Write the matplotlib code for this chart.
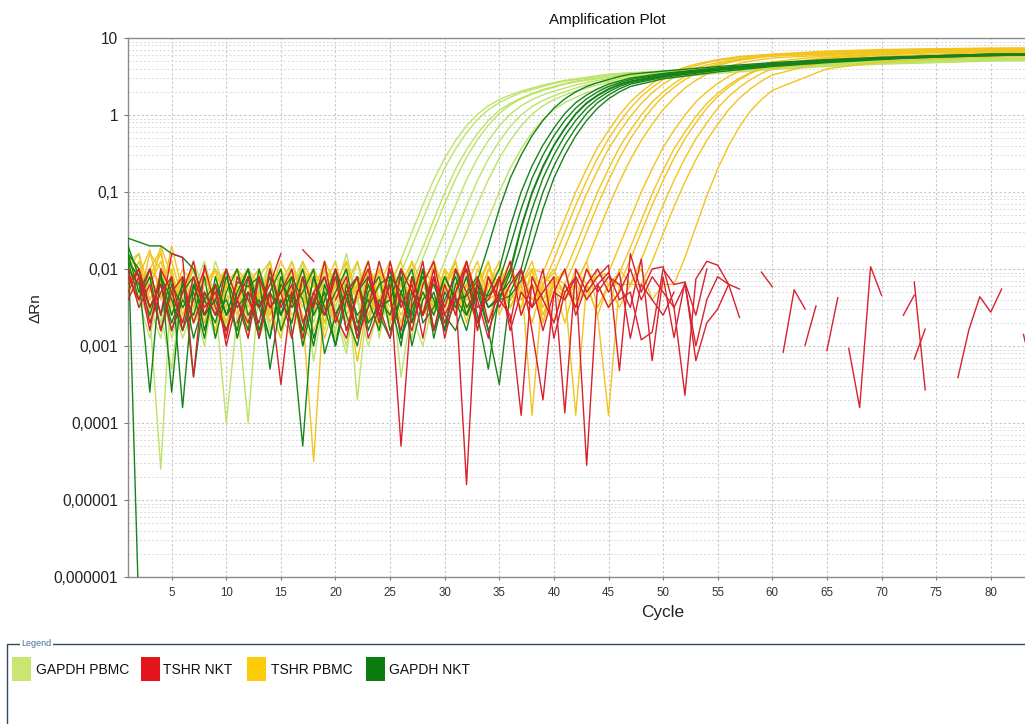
import numpy as np
import matplotlib
matplotlib.use("Agg")
import matplotlib.pyplot as plt
from matplotlib import font_manager
from matplotlib.ticker import FixedLocator, LogLocator, NullFormatter
from matplotlib.patches import Rectangle

plt.rcParams['font.family'] = ['Liberation Sans', 'DejaVu Sans']

nan = np.nan

# all dRn values below are log10(dRn), one per cycle from cycle 1
# (base = noisy baseline, rise = amplification part, tail = plateau at the *_TAIL_CYCLES)

GREEN_TAIL_CYCLES = [50, 55, 60, 65, 70, 75, 80, 85, 90]
YELLOW_TAIL_CYCLES = [65, 70, 75, 80, 85, 90]

# ---- GAPDH PBMC (light green)
gapdh_pbmc_base = [
    [-1.8, -2.0, -2.6, -4.6, -2.1, -2.5, -1.9, -2.3, -2.8, -2.2, -2.0, -2.7, -2.4, -1.9, -2.6,
     -2.9, -2.2, -2.0, -2.5, -2.3, -1.8, -2.4, -2.7, -2.2],
    [-1.7, -2.1, -2.5, -2.9, -2.0, -2.7, -2.3, -1.9, -2.4, -4.0, -2.6, -2.2, -2.0, -2.8, -2.4,
     -1.9, -2.3, -2.7, -2.1, -2.5, -3.0, -2.2, -1.9, -2.4, -2.3],
    [-1.9, -1.8, -2.6, -2.2, -2.9, -2.4, -2.0, -2.7, -2.3, -2.1, -2.5, -4.0, -2.2, -2.8, -2.4,
     -2.0, -2.9, -2.3, -1.9, -2.6, -3.1, -2.2, -2.5, -1.9, -2.4, -2.2],
    [-1.8, -2.3, -2.0, -2.8, -2.4, -2.1, -2.7, -2.5, -1.9, -2.3, -2.9, -2.4, -2.1, -2.6, -2.0,
     -2.3, -2.7, -3.0, -2.2, -2.5, -2.0, -3.7, -2.3, -2.7, -2.1, -2.3],
    [-2.0, -2.4, -2.9, -2.1, -2.6, -2.2, -2.0, -2.8, -2.4, -2.7, -2.1, -2.5, -2.3, -1.9, -2.8,
     -2.4, -2.1, -3.2, -2.3, -2.0, -2.7, -2.4, -2.0, -2.9, -2.2, -2.5, -2.3],
    [-1.9, -2.4, -2.1, -2.6, -3.3, -2.2, -2.7, -2.4, -2.9, -2.1, -2.3, -2.8, -2.0, -2.5, -2.9,
     -2.2, -1.9, -2.6, -2.3, -2.8, -2.1, -2.4, -3.0, -2.5, -2.0, -3.4, -2.5, -2.2],
    [-1.8, -2.3, -2.7, -2.1, -2.4, -2.9, -2.5, -2.0, -2.3, -2.8, -2.2, -2.0, -2.9, -2.5, -2.1,
     -2.7, -2.3, -2.6, -2.0, -2.9, -2.4, -1.9, -2.6, -2.2, -2.8, -2.3, -2.9, -2.1, -2.4],
    [-2.0, -2.5, -2.2, -2.7, -2.1, -2.8, -2.4, -3.0, -2.2, -2.6, -2.3, -2.9, -2.1, -2.4, -2.7,
     -2.0, -2.9, -2.3, -2.8, -2.1, -2.6, -2.4, -2.0, -2.8, -2.3, -2.1, -2.6, -3.0, -2.4, -2.2,
     -2.5],
]
gapdh_pbmc_rise = [
    [-2.2, -1.88, -1.52, -1.17, -0.84, -0.56, -0.33, -0.14, 0.01, 0.12, 0.2, 0.26, 0.31, 0.35,
     0.39, 0.42, 0.45, 0.47, 0.49, 0.51, 0.53, 0.54, 0.55],
    [-2.05, -1.7, -1.35, -1.0, -0.69, -0.44, -0.23, -0.06, 0.07, 0.16, 0.23, 0.29, 0.33, 0.37,
     0.41, 0.44, 0.46, 0.48, 0.5, 0.52, 0.535, 0.545],
    [-2.05, -1.72, -1.36, -1.01, -0.7, -0.45, -0.24, -0.07, 0.06, 0.15, 0.22, 0.28, 0.33, 0.37,
     0.41, 0.44, 0.46, 0.48, 0.5, 0.52, 0.535],
    [-2.2, -1.86, -1.5, -1.15, -0.83, -0.55, -0.32, -0.13, 0.02, 0.13, 0.21, 0.27, 0.32, 0.36,
     0.4, 0.43, 0.45, 0.47, 0.49, 0.51, 0.53],
    [-2.2, -1.88, -1.52, -1.17, -0.84, -0.56, -0.33, -0.14, 0.01, 0.12, 0.2, 0.26, 0.31, 0.35,
     0.39, 0.42, 0.45, 0.47, 0.49, 0.51],
    [-2.25, -1.9, -1.53, -1.18, -0.85, -0.57, -0.34, -0.15, 0.0, 0.11, 0.19, 0.25, 0.3, 0.35,
     0.39, 0.42, 0.44, 0.47, 0.49],
    [-2.2, -1.87, -1.51, -1.16, -0.84, -0.56, -0.33, -0.14, 0.01, 0.12, 0.2, 0.26, 0.31, 0.35,
     0.39, 0.42, 0.45, 0.47],
    [-2.05, -1.7, -1.35, -1.0, -0.69, -0.44, -0.23, -0.06, 0.07, 0.16, 0.23, 0.29, 0.33, 0.37,
     0.41, 0.44],
]
gapdh_pbmc_tail = [
    [0.57, 0.61, 0.65, 0.68, 0.70, 0.72, 0.73, 0.74, 0.75],
    [0.56, 0.60, 0.64, 0.67, 0.70, 0.71, 0.73, 0.74, 0.74],
    [0.56, 0.60, 0.64, 0.67, 0.69, 0.71, 0.72, 0.73, 0.74],
    [0.54, 0.59, 0.63, 0.66, 0.69, 0.71, 0.72, 0.73, 0.73],
    [0.53, 0.58, 0.62, 0.66, 0.68, 0.70, 0.72, 0.73, 0.73],
    [0.51, 0.57, 0.61, 0.65, 0.68, 0.70, 0.71, 0.72, 0.73],
    [0.50, 0.56, 0.61, 0.64, 0.67, 0.69, 0.71, 0.72, 0.72],
    [0.48, 0.54, 0.59, 0.63, 0.66, 0.68, 0.70, 0.71, 0.72],
]

# ---- GAPDH NKT (dark green)
gapdh_nkt_base = [
    [-1.6, -6.5, nan, -2.1, -2.6, -2.2, -2.9, -2.4, -2.7, -2.1, -2.5, -2.3, -2.9, -2.0, -2.6,
     -2.3, -2.8, -2.1, -2.5, -3.0, -2.4, -2.1, -2.7, -2.5, -2.0, -2.9, -2.3, -2.6, -2.1, -2.8,
     -2.4],
    [-1.6, -1.65, -1.7, -1.7, -1.8, -1.85, -2.0, -2.4, -2.2, -2.6, -2.17, -2.23, -2.1, -3.3, -2.4,
     -2.7, -2.1, -2.9, -2.4, -2.0, -2.6, -3.0, -2.3, -2.1, -2.8, -2.4, -2.6, -2.0, -2.9, -2.3,
     -2.5, -2.1, -2.7],
    [-1.7, -2.1, -3.6, -2.0, -3.6, -2.1, -3.4, -2.3, -2.6, -2.4, -2.8, -2.1, -2.5, -2.3, -2.0,
     -2.8, -4.3, -2.4, -2.1, -2.6, -2.3, -2.9, -2.2, -2.5, -2.4, -3.0, -2.1, -2.6, -2.3, -2.8,
     -2.0, -2.5, -2.3],
    [-1.8, -2.3, -2.0, -2.6, -2.1, -3.8, -2.2, -2.6, -2.4, -2.8, -2.3, -2.0, -2.5, -2.9, -2.2,
     -2.4, -2.8, -2.1, -2.6, -2.3, -2.0, -2.7, -2.5, -2.2, -2.1, -2.9, -2.5, -2.1, -2.4, -2.8,
     -2.2, -2.0, -2.6, -3.3],
    [-1.9, -2.4, -2.1, -2.8, -2.2, -2.5, -2.3, -2.9, -2.1, -2.6, -2.4, -2.8, -2.0, -2.5, -2.3,
     -2.1, -3.0, -2.4, -2.6, -2.0, -2.8, -2.3, -2.1, -2.6, -2.9, -2.3, -2.0, -2.7, -2.5, -2.1,
     -2.4, -2.8, -2.2, -2.5],
    [-1.8, -2.0, -2.5, -2.2, -2.8, -2.4, -2.6, -2.1, -2.9, -2.3, -2.0, -2.6, -2.4, -2.9, -2.1,
     -2.5, -2.3, -2.0, -3.1, -2.6, -2.3, -2.1, -2.8, -2.4, -2.6, -2.1, -3.0, -2.4, -2.2, -2.6,
     -2.8, -2.3, -2.1, -2.5],
    [-2.0, -2.2, -2.6, -2.1, -2.4, -2.8, -2.2, -2.6, -2.4, -2.0, -2.9, -2.3, -2.5, -2.1, -2.8,
     -2.4, -2.0, -2.6, -2.3, -3.0, -2.2, -2.6, -2.4, -2.8, -2.1, -2.3, -2.7, -2.0, -2.8, -2.4,
     -2.1, -2.6, -2.3, -2.8, -3.5],
    [-1.9, -2.1, -2.5, -2.2, -2.7, -2.3, -2.1, -2.8, -2.2, -2.6, -2.4, -2.0, -2.8, -2.3, -2.6,
     -2.1, -2.4, -3.0, -2.2, -2.6, -2.3, -2.8, -2.1, -2.5, -2.4, -2.0, -2.7, -2.3, -2.6, -2.1,
     -2.4, -2.6, -2.2, -2.8, -2.4],
]
gapdh_nkt_rise = [
    [-2.35, -2.15, -1.7, -1.22, -0.82, -0.52, -0.27, -0.07, 0.09, 0.21, 0.3, 0.37, 0.42, 0.46,
     0.5, 0.53],
    [-2.3, -2.0, -1.45, -1.0, -0.66, -0.39, -0.17, 0.02, 0.16, 0.26, 0.34, 0.4, 0.44, 0.48],
    [-2.35, -2.15, -1.7, -1.22, -0.82, -0.52, -0.27, -0.07, 0.09, 0.21, 0.3, 0.37, 0.42, 0.46],
    [-2.3, -2.0, -1.45, -1.0, -0.66, -0.39, -0.17, 0.02, 0.16, 0.26, 0.34, 0.4, 0.44],
    [-2.4, -2.05, -1.47, -1.02, -0.68, -0.4, -0.18, 0.01, 0.15, 0.25, 0.33, 0.39, 0.43],
    [-2.35, -2.15, -1.7, -1.22, -0.82, -0.52, -0.27, -0.07, 0.09, 0.21, 0.3, 0.37, 0.42],
    [-2.3, -2.0, -1.45, -1.0, -0.66, -0.39, -0.17, 0.02, 0.16, 0.26, 0.34, 0.4],
    [-2.35, -2.15, -1.7, -1.22, -0.82, -0.52, -0.27, -0.07, 0.09, 0.21, 0.3, 0.37],
]
gapdh_nkt_tail = [
    [0.57, 0.63, 0.68, 0.72, 0.75, 0.77, 0.79, 0.80, 0.81],
    [0.54, 0.61, 0.67, 0.71, 0.74, 0.77, 0.79, 0.80, 0.81],
    [0.53, 0.61, 0.66, 0.71, 0.74, 0.77, 0.79, 0.80, 0.81],
    [0.52, 0.60, 0.66, 0.70, 0.74, 0.76, 0.78, 0.80, 0.81],
    [0.51, 0.59, 0.65, 0.70, 0.73, 0.76, 0.78, 0.79, 0.80],
    [0.50, 0.59, 0.65, 0.69, 0.73, 0.76, 0.78, 0.79, 0.80],
    [0.49, 0.58, 0.64, 0.69, 0.73, 0.75, 0.77, 0.79, 0.80],
    [0.47, 0.56, 0.63, 0.68, 0.72, 0.75, 0.77, 0.78, 0.79],
]

# ---- TSHR PBMC (yellow)
tshr_pbmc_base = [
    [-1.9, -2.1, -1.75, -2.4, -1.7, -2.3, -2.0, -2.6, -2.2, -2.5, -2.8, -2.1, -2.5, -2.3, -1.9,
     -2.2, -2.6, -4.5, -2.3, -2.0, -2.5, -2.1, -2.7, -2.2, -1.9, -2.4, -2.2, -2.0, -2.6, -2.3,
     -1.9, -2.5, -2.2, -2.7, -2.1, -2.4, -2.2, -2.0],
    [-2.0, -1.8, -2.3, -1.7, -2.1, -2.5, -2.2, -2.7, -2.3, -2.0, -2.4, -2.6, -2.1, -1.9, -2.5,
     -2.0, -2.3, -2.8, -2.4, -2.1, -2.2, -2.9, -2.0, -2.4, -2.2, -1.9, -2.6, -2.3, -2.5, -2.0,
     -2.2, -2.7, -2.1, -2.4, -2.3, -2.0, -2.4, -2.1],
    [-2.1, -2.4, -1.8, -2.0, -2.6, -2.1, -2.4, -2.2, -2.0, -2.9, -2.2, -2.5, -2.1, -2.7, -2.3,
     -2.4, -1.9, -2.2, -2.9, -2.4, -2.0, -2.3, -2.6, -2.4, -2.0, -2.2, -1.9, -2.5, -2.8, -2.2,
     -2.0, -2.4, -2.3, -1.9, -2.6, -2.2, -2.1, -3.9, -2.2],
    [-1.8, -2.2, -2.0, -1.75, -2.5, -2.2, -2.7, -2.1, -2.4, -2.2, -2.6, -2.3, -2.4, -2.0, -2.8,
     -2.2, -2.5, -2.0, -2.3, -2.7, -1.9, -2.4, -2.2, -2.8, -2.1, -2.5, -2.2, -2.6, -1.9, -2.3,
     -2.5, -2.1, -2.7, -2.2, -2.4, -2.0, -2.3, -2.5, -2.1, -2.2],
    [-2.2, -1.9, -2.4, -2.1, -2.0, -2.6, -2.2, -2.4, -2.8, -2.2, -2.0, -2.4, -2.3, -2.6, -2.1,
     -2.3, -3.0, -2.4, -2.0, -2.2, -2.6, -2.3, -1.9, -2.5, -2.2, -2.8, -2.1, -2.3, -2.5, -2.0,
     -2.6, -2.2, -1.9, -2.4, -2.3, -2.0, -2.6, -2.2, -2.4, -2.1],
    [-2.0, -2.2, -2.1, -1.8, -2.4, -2.1, -2.3, -2.7, -2.2, -2.5, -2.0, -2.2, -2.8, -2.4, -2.2,
     -1.9, -2.4, -2.2, -2.6, -2.1, -2.3, -3.2, -2.4, -2.0, -2.2, -2.6, -2.3, -2.0, -2.5, -2.2,
     -1.9, -2.6, -2.2, -2.4, -2.1, -2.3, -2.5, -2.0, -2.6, -2.2, -2.3],
    [-2.1, -2.4, -2.0, -2.2, -2.6, -2.2, -2.0, -2.4, -2.2, -2.8, -2.3, -2.0, -2.2, -2.6, -2.2,
     -2.4, -2.1, -2.2, -2.7, -2.3, -2.2, -1.9, -2.4, -2.2, -2.6, -2.0, -2.3, -2.2, -1.9, -2.5,
     -2.2, -2.6, -2.0, -2.3, -2.2, -1.9, -2.4, -2.2, -2.7, -2.1, -2.3, -3.9, -2.2, -2.1],
    [-2.2, -2.0, -2.4, -2.1, -2.2, -2.5, -2.6, -2.2, -2.0, -2.4, -2.2, -2.8, -2.3, -2.2, -2.0,
     -2.4, -2.2, -2.6, -1.9, -2.2, -2.5, -2.1, -2.2, -2.7, -2.2, -2.4, -1.9, -2.2, -2.5, -2.0,
     -2.6, -2.2, -2.4, -2.0, -2.2, -2.5, -2.2, -1.9, -2.4, -2.2, -2.0, -2.5, -2.2, -2.6, -2.2],
    [-2.3, -2.0, -2.2, -1.9, -2.4, -2.2, -2.5, -2.0, -2.6, -2.2, -2.4, -2.1, -2.2, -2.5, -2.9,
     -2.2, -2.0, -2.4, -2.2, -1.9, -2.5, -2.2, -2.7, -2.0, -2.4, -2.2, -2.5, -2.0, -2.2, -2.6,
     -2.2, -1.9, -2.4, -2.2, -2.0, -2.5, -2.2, -2.7, -2.2, -2.0, -2.4, -2.2, -1.9, -2.5, -2.2],
    [-2.0, -2.2, -2.5, -2.1, -2.2, -2.7, -2.2, -2.4, -2.0, -2.2, -2.5, -2.2, -2.0, -2.4, -2.2,
     -2.7, -2.2, -2.0, -2.5, -2.2, -1.9, -2.4, -2.2, -2.0, -2.7, -2.2, -2.4, -2.0, -2.2, -2.5,
     -2.2, -2.0, -2.4, -2.2, -1.9, -2.5, -2.2, -2.0, -2.7, -2.2, -2.4, -2.0, -2.2, -2.6, -3.9,
     -2.2],
    [-2.2, -2.4, -2.0, -2.2, -1.9, -2.4, -2.2, -2.7, -2.2, -2.0, -2.4, -2.2, -2.5, -2.0, -2.2,
     -2.6, -2.4, -2.2, -2.0, -2.4, -2.2, -2.7, -2.0, -2.2, -2.5, -2.0, -2.2, -2.6, -2.4, -2.2,
     -2.0, -2.5, -2.2, -1.9, -2.4, -2.2, -2.0, -2.4, -2.2, -2.7, -2.2, -2.4, -2.0, -2.2, -2.5,
     -2.0, -2.2],
    [-2.1, -2.2, -2.6, -2.2, -2.4, -2.0, -2.2, -2.5, -2.2, -2.7, -2.2, -2.0, -2.4, -2.2, -2.3,
     -2.5, -2.0, -2.2, -2.7, -2.2, -2.4, -2.2, -2.0, -2.5, -2.2, -2.7, -2.2, -2.4, -2.0, -2.2,
     -2.5, -2.2, -2.8, -2.0, -2.2, -2.4, -2.2, -2.0, -2.5, -2.2, -2.7, -2.2, -2.4, -2.0, -2.2,
     -2.5, -2.2, -2.0, -2.4, -2.2],
]
tshr_pbmc_rise = [
    [-2.05, -1.7, -1.35, -1.0, -0.7, -0.42, -0.2, 0.0, 0.17, 0.3, 0.41, 0.5, 0.57, 0.62, 0.66,
     0.69, 0.72, 0.74, 0.76, 0.77, 0.78, 0.79],
    [-2.2, -1.88, -1.52, -1.17, -0.85, -0.56, -0.31, -0.1, 0.09, 0.24, 0.36, 0.46, 0.54, 0.6,
     0.64, 0.68, 0.71, 0.73, 0.75, 0.765, 0.775, 0.785],
    [-2.05, -1.72, -1.37, -1.02, -0.72, -0.44, -0.22, -0.02, 0.15, 0.29, 0.4, 0.49, 0.56, 0.61,
     0.65, 0.68, 0.71, 0.73, 0.75, 0.76, 0.77],
    [-2.05, -1.7, -1.35, -1.0, -0.7, -0.42, -0.2, 0.0, 0.17, 0.3, 0.41, 0.5, 0.57, 0.62, 0.66,
     0.69, 0.72, 0.74, 0.76, 0.77],
    [-2.2, -1.88, -1.52, -1.17, -0.85, -0.56, -0.31, -0.1, 0.09, 0.24, 0.36, 0.46, 0.54, 0.6,
     0.64, 0.68, 0.71, 0.73, 0.75, 0.765],
    [-2.2, -1.9, -1.54, -1.19, -0.87, -0.58, -0.33, -0.12, 0.07, 0.22, 0.35, 0.45, 0.53, 0.59,
     0.63, 0.67, 0.7, 0.72, 0.74],
    [-2.05, -1.7, -1.35, -1.0, -0.7, -0.42, -0.2, 0.0, 0.17, 0.3, 0.41, 0.5, 0.57, 0.62, 0.66,
     0.69],
    [-2.05, -1.72, -1.37, -1.02, -0.72, -0.44, -0.22, -0.02, 0.15, 0.28, 0.39, 0.48, 0.55, 0.61,
     0.65],
    [-2.2, -1.88, -1.52, -1.17, -0.85, -0.56, -0.31, -0.1, 0.09, 0.24, 0.36, 0.46, 0.54, 0.6,
     0.64],
    [-2.2, -1.88, -1.52, -1.17, -0.85, -0.56, -0.31, -0.1, 0.09, 0.24, 0.36, 0.46, 0.54, 0.6],
    [-2.2, -1.9, -1.54, -1.19, -0.87, -0.58, -0.33, -0.12, 0.07, 0.22, 0.34, 0.44, 0.52],
    [-2.2, -1.85, -1.45, -1.05, -0.7, -0.4, -0.15, 0.05, 0.2, 0.32],
]
tshr_pbmc_tail = [
    [0.83, 0.85, 0.86, 0.87, 0.87, 0.87],
    [0.82, 0.84, 0.86, 0.86, 0.87, 0.87],
    [0.81, 0.84, 0.85, 0.86, 0.86, 0.87],
    [0.80, 0.83, 0.85, 0.86, 0.86, 0.86],
    [0.79, 0.82, 0.84, 0.85, 0.86, 0.86],
    [0.78, 0.82, 0.84, 0.85, 0.85, 0.86],
    [0.77, 0.81, 0.83, 0.84, 0.85, 0.85],
    [0.75, 0.80, 0.82, 0.84, 0.84, 0.85],
    [0.74, 0.79, 0.82, 0.83, 0.84, 0.84],
    [0.72, 0.78, 0.81, 0.82, 0.83, 0.84],
    [0.70, 0.76, 0.79, 0.81, 0.82, 0.83],
    [0.60, 0.69, 0.73, 0.75, 0.76, 0.77],
]

# ---- TSHR NKT (red), no amplification; gaps where dRn <= 0
tshr_nkt_early = [
    [-2.1, -2.4, -2.0, -2.6, -1.8, -1.85, -3.4, -1.95, -2.5, -2.8, -2.4, -2.1, -2.9, -2.3, -3.5,
     -2.3, nan, nan, -2.6, -2.1, -2.8, -2.3, -1.9, -2.6, -2.2, -4.3, -2.4, -1.9, -2.8, -2.2,
     -2.6, -1.9, -2.4, -2.9, -2.1, -2.7, -2.0, -2.5, -2.3, -2.1],
    [-2.2, -2.0, -2.7, -2.3, -2.1, -2.8, -2.4, -2.0, nan, nan, -2.7, -2.3, -2.5, -2.2, -1.8,
     nan, -1.75, -1.9, nan, -2.4, -2.1, -2.9, -2.5, -1.9, -2.4, -2.8, -2.1, -2.6, -2.0, -2.9,
     -2.3, -4.8, -2.1, -2.7, -2.3, -1.9, -2.6, -2.2, -2.8, -2.3],
    [-2.3, -2.0, -2.5, -2.2, -2.8, -2.3, -1.9, -2.6, -2.2, -3.0, -2.4, -2.7, -2.1, -2.5, -2.3,
     -2.9, -2.1, -2.5, -1.9, -2.7, -2.3, -2.1, -2.9, -2.5, -2.0, -2.4, -2.8, -2.2, -1.9, -2.6,
     -2.3, -2.0, -2.8, -2.1, -2.4, -2.6, -3.9, -2.1, -2.4, -2.7],
    [-2.0, -2.5, -2.2, -2.8, -2.3, -2.1, -2.7, -2.3, -2.6, -2.0, -2.4, -2.9, -2.1, -2.5, -2.3,
     -2.0, -2.7, -2.3, -2.1, -2.6, -2.9, -2.3, -2.0, -2.7, -1.9, -2.5, -2.2, -2.9, -2.1, -2.5,
     -2.0, -2.3, -2.7, -2.1, -2.5, -2.2, -2.0, -2.8, -3.7, -2.3],
    [-2.4, -2.1, -2.8, -2.0, -2.3, -2.7, -2.1, -2.5, -2.3, -2.9, -2.1, -2.4, -2.7, -2.0, -2.5,
     -2.2, -2.9, -2.3, -2.6, -2.0, -2.4, -2.8, -2.1, -2.5, -2.9, -2.0, -2.3, -2.6, -2.1, -2.7,
     -2.3, -1.9, -2.5, -2.4, -2.1, -2.8, -2.3, -2.5, -2.0, -2.9],
]
tshr_nkt_late = [
    [-3.87, -2.0, -2.3, -2.1, -1.95, -3.32, -1.8, -2.3, -2.0, -1.97, -2.5, -3.64, -2.13, -1.9,
     -1.95, -2.2, -2.63, nan, -2.04, -2.23, nan, nan, -2.99, -2.48, nan, nan, -3.03, -3.8,
     -1.97, -2.34, nan, nan, -2.17, -3.57, nan, nan, -3.41, -2.79, -2.36, -2.56, -2.26],
    [-2.4, -2.1, -4.55, -2.2, -2.05, -2.4, -2.3, -2.92, -2.82, -2.0, -2.2, -2.17, -3.19, -2.7,
     -2.52, -2.2, -2.26, nan, nan, nan, -3.08, -2.27, -2.52, nan, -3.06, -2.37, nan, nan, nan,
     nan, nan, -2.6, -2.34, nan, nan, nan, nan, nan, nan, nan, nan, nan, -2.85, -3.44],
    [-2.2, -2.5, -2.0, -2.3, -2.1, -2.2, -2.5, -1.87, -3.19, -2.1, -2.89, -2.17, -2.6, -2.0,
     nan, nan, nan, nan, nan, nan, nan, nan, nan, nan, nan, nan, nan, nan, nan, nan, nan, nan,
     -3.17, -2.78],
    [-2.0, -2.6, -2.2, -2.0, -2.3, -2.05, -2.9, -2.2, -2.4, -2.6, -2.3],
    [-2.3, -2.1, -2.4, -2.2, -2.5, -2.3, -2.0, -2.4, -2.1, -2.3, -2.5, -2.2, -3.0, -2.4, -2.1,
     -2.2],
]

legend_labels = ['GAPDH PBMC', 'TSHR NKT', 'TSHR PBMC', 'GAPDH NKT']
legend_colors = ['#c9e672', '#e3141c', '#fccb0a', '#0b7d0f']

y_ticks = [1e-6, 1e-5, 1e-4, 1e-3, 1e-2, 1e-1, 1, 10]
y_labels = ['0,000001', '0,00001', '0,0001', '0,001', '0,01', '0,1', '1', '10']
x_ticks = list(range(5, 85, 5))


def curve(base, rise=(), tail=(), tail_cycles=()):
    y = list(base) + list(rise)
    x = list(range(1, len(y) + 1)) + list(tail_cycles)
    y = y + list(tail)
    return np.array(x, float), 10.0 ** np.array(y, float)


W, H = 1025, 724
fig = plt.figure(figsize=(W / 100, H / 100), dpi=100)
fig.patch.set_facecolor('white')

# plot area: left 128px, top 38px, bottom 577px, runs past the right edge
ax = fig.add_axes([128 / W, 1 - 577 / H, 961 / W, 539 / H])
ax.set_yscale('log')
ax.set_xlim(1, 89)
ax.set_ylim(1e-6, 10)

line_green_light = '#bde366'
line_red = '#d8212f'
line_yellow = '#f2c41e'
line_green_dark = '#16831a'

for b, r, t in zip(gapdh_pbmc_base, gapdh_pbmc_rise, gapdh_pbmc_tail):
    x, y = curve(b, r, t, GREEN_TAIL_CYCLES)
    ax.plot(x, y, color=line_green_light, lw=1.0, zorder=2)

for b, r, t in zip(tshr_pbmc_base, tshr_pbmc_rise, tshr_pbmc_tail):
    x, y = curve(b, r, t, YELLOW_TAIL_CYCLES)
    ax.plot(x, y, color=line_yellow, lw=1.0, zorder=3)

for b, r, t in zip(gapdh_nkt_base, gapdh_nkt_rise, gapdh_nkt_tail):
    x, y = curve(b, r, t, GREEN_TAIL_CYCLES)
    ax.plot(x, y, color=line_green_dark, lw=1.0, zorder=4)

for e, l in zip(tshr_nkt_early, tshr_nkt_late):
    x, y = curve(e, l)
    ax.plot(x, y, color=line_red, lw=1.0, zorder=5)

# grid and ticks
ax.xaxis.set_major_locator(FixedLocator(x_ticks))
ax.yaxis.set_major_locator(FixedLocator(y_ticks))
ax.yaxis.set_minor_locator(LogLocator(base=10, subs=range(2, 10)))
ax.yaxis.set_minor_formatter(NullFormatter())
ax.set_yticklabels(y_labels)
ax.grid(True, which='major', color='#c6c6c6', linestyle=(0, (2, 2)), linewidth=0.8)
ax.grid(True, which='minor', axis='y', color='#dadada', linestyle=(0, (2, 2)), linewidth=0.7)
ax.set_axisbelow(True)
ax.tick_params(axis='y', which='major', length=3, width=0.8, color='#777777', pad=4,
               labelsize=11.2, labelcolor='#222222')
ax.tick_params(axis='y', which='minor', length=0)
ax.tick_params(axis='x', which='major', length=2, width=0.8, color='#777777', pad=5,
               labelsize=8.3, labelcolor='#333333')
for side in ['left', 'bottom', 'top']:
    ax.spines[side].set_color('#8a8a8a')
    ax.spines[side].set_linewidth(1.0)

# titles
fig.text(607 / W, 1 - 20 / H, 'Amplification Plot', ha='center', va='center', fontsize=11,
         color='#111111')
fig.text(663 / W, 1 - 613 / H, 'Cycle', ha='center', va='center', fontsize=12.4,
         color='#222222')
fig.text(35 / W, 1 - 308 / H, 'ΔRn', ha='center', va='center', rotation=90, fontsize=11,
         color='#222222')

# legend panel drawn in pixel coordinates
try:
    font_manager.findfont('Liberation Sans Narrow', fallback_to_default=False)
    leg_family, leg_size = ['Liberation Sans Narrow', 'DejaVu Sans'], 12
except ValueError:
    leg_family, leg_size = ['Liberation Sans', 'DejaVu Sans'], 10

lax = fig.add_axes([0, 0, 1, 1], zorder=10)
lax.set_xlim(0, W)
lax.set_ylim(H, 0)
lax.axis('off')
lax.plot([7, 7, W + 5], [H + 5, 644, 644], color='#34495c', lw=1.0)
lax.text(21, 644, 'Legend', fontsize=6.5, color='#4a6e9c', va='center', ha='left',
         bbox=dict(facecolor='white', edgecolor='none', pad=1.0))

patch_x = [12, 141, 247, 366]
text_x = [36, 163, 271, 389]
for px, tx, lab, col in zip(patch_x, text_x, legend_labels, legend_colors):
    lax.add_patch(Rectangle((px, 657), 19, 24, facecolor=col, edgecolor='none'))
    lax.text(tx, 670, lab, fontsize=leg_size, family=leg_family, va='center', ha='left',
             color='#111111')

fig.savefig('out.png', dpi=100)
